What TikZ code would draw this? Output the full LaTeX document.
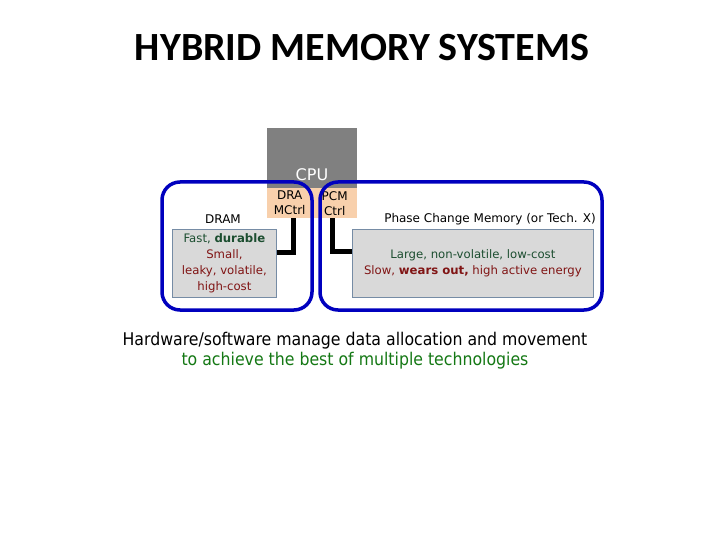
\documentclass[tikz,border=0pt]{standalone}
\usepackage{fontspec}
\setmainfont{DejaVu Sans}
\newfontfamily\titlefont{Carlito}
\newfontfamily\notefont{DejaVu Sans Condensed}
\usepackage{xcolor}
\usetikzlibrary{arrows.meta,positioning,calc}
\definecolor{hmblue}{RGB}{0,0,190}
\definecolor{hmgray}{RGB}{128,128,128}
\definecolor{hmpeach}{RGB}{248,208,172}
\definecolor{hmbox}{RGB}{217,217,217}
\definecolor{hmedge}{RGB}{118,140,165}
\definecolor{hmgreen}{RGB}{28,78,48}
\definecolor{hmred}{RGB}{128,20,20}
\definecolor{hmlime}{RGB}{20,120,20}

\begin{document}
\begin{tikzpicture}[
  x=1pt, y=-1pt,
  memory/.style={draw=hmblue, line width=3.5pt, rounded corners=18pt, inner sep=0pt, outer sep=0pt, anchor=north west},
  facts/.style={draw=hmedge, fill=hmbox, line width=0.8pt, align=center, inner sep=0pt, anchor=north west, font=\fontsize{11.7}{16}\selectfont},
  ctrl/.style={fill=hmpeach, align=center, inner sep=0pt, anchor=north west, minimum width=45pt, minimum height=30pt, font=\fontsize{12}{15}\selectfont},
  tag/.style={font=\fontsize{12}{14}\selectfont},
  link/.style={line width=5pt}
]
  \useasboundingbox[fill=white] (0,0) rectangle (720,540);

  \node[font=\titlefont\bfseries\fontsize{40}{44}\selectfont] (title) at (362,48) {HYBRID MEMORY SYSTEMS};

  % processor and its two controllers
  \node[fill=hmgray, anchor=north west, minimum width=90pt, minimum height=60pt, inner sep=0pt] (cpu) at (267,128) {};
  \node[text=white, font=\fontsize{16}{18}\selectfont] (cpulabel) at (312,175) {CPU};
  \node[ctrl] (dramctrl) at (267,188) {DRA\\MCtrl};
  \node[ctrl] (pcmctrl) at (312,188) {PCM\\Ctrl};

  % the two memories
  \node[memory, minimum width=150pt, minimum height=128pt] (dram) at (162,182) {};
  \node[memory, minimum width=282pt, minimum height=128pt] (pcm) at (320,182) {};

  \node[tag] (dramname) at (223,219) {DRAM};
  \node[tag] (pcmname) at (490,219) {Phase Change Memory (or Tech. X)};

  \node[facts, minimum width=104pt, minimum height=68pt] (dramfacts) at (172,229)
    {\textcolor{hmgreen}{Fast, \textbf{durable}}\\ \textcolor{hmred}{Small,}\\ \textcolor{hmred}{leaky, volatile,}\\ \textcolor{hmred}{high-cost}};
  \node[facts, minimum width=241pt, minimum height=68pt] (pcmfacts) at (352,229)
    {\textcolor{hmgreen}{Large, non-volatile, low-cost}\\ \textcolor{hmred}{Slow, \textbf{wears out,} high active energy}};

  \draw[link] ([xshift=4pt]dramctrl.south) |- ([yshift=11pt]dramfacts.east);
  \draw[link] ([xshift=-2pt]pcmctrl.south) |- ([yshift=12pt]pcmfacts.west);

  \node[align=center, font=\notefont\fontsize{17.5}{20}\selectfont] (summary) at (355,351)
    {Hardware/software manage data allocation and movement\\ \textcolor{hmlime}{to achieve the best of multiple technologies}};
\end{tikzpicture}
\end{document}
